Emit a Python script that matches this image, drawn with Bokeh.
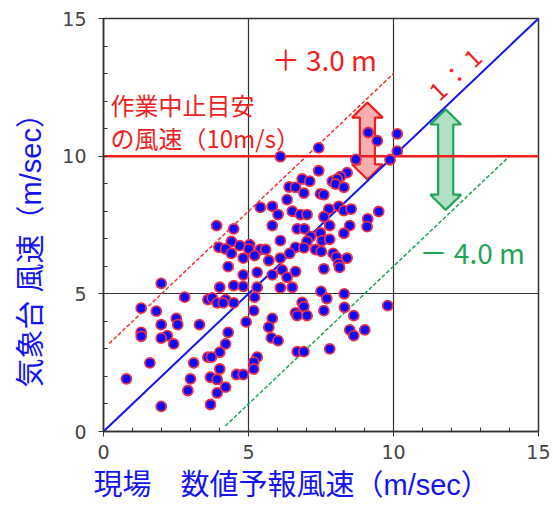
from bokeh.plotting import figure
from bokeh.models import Range1d, SingleIntervalTicker, Label, ColumnDataSource, Title
from bokeh.embed import file_html
from bokeh.resources import INLINE
import math

# ---- data ----
forecast = [6.10, 5.41, 5.82, 6.02, 3.90, 4.49, 5.82, 4.41, 6.10, 3.98, 4.21, 4.70, 5.04, 5.01, 5.41, 5.59,
            4.41, 4.82, 5.21, 6.10, 5.70, 4.30, 5.30, 4.82, 5.82, 6.16, 1.99, 4.49, 4.82, 4.01, 5.30, 6.10,
            7.42, 8.70, 9.88, 10.13, 9.13, 9.44, 10.13, 7.42, 8.40, 8.17, 6.85, 7.11, 7.89, 8.06, 8.00, 8.29,
            6.40, 6.62, 6.91, 7.48, 7.60, 6.33, 6.51, 7.77, 8.11, 8.29, 8.54, 9.49, 6.79, 7.02, 7.60, 9.11,
            9.09, 7.80, 8.49, 6.68, 6.93, 7.48, 8.29, 7.14, 7.54, 7.80, 7.02, 6.62, 6.91, 7.31, 7.51, 6.42,
            7.92, 8.03, 8.40, 8.11, 8.14, 7.60, 6.62, 6.33, 6.51, 7.50, 7.70, 8.30,
            6.85, 6.91, 9.80, 6.62, 6.68, 7.02, 7.60, 8.31, 8.63, 8.49, 8.63, 9.01, 6.68, 6.91, 7.80,
            2.80, 3.60, 3.75, 3.92, 4.21, 4.13, 4.49, 5.21, 1.30, 1.82, 5.18, 2.51, 1.99, 2.56, 3.31, 4.92,
            5.82, 5.70, 1.30, 1.30, 2.20, 1.99, 2.42, 4.30, 4.21, 5.79, 6.02, 4.01, 3.60, 3.72, 1.60, 3.11,
            5.30, 5.18, 5.18, 4.01, 3.69, 3.92, 4.59, 4.82, 0.79, 3.00, 2.91, 4.21, 3.92, 3.69, 1.99]
observed = [9.98, 8.14, 8.18, 7.88, 7.48, 7.36, 7.48, 6.90, 6.93, 6.69, 6.63, 6.75, 6.79, 6.63, 6.61, 6.61,
            6.47, 6.30, 6.39, 6.30, 6.21, 5.99, 5.78, 5.69, 5.69, 5.87, 5.38, 5.30, 5.27, 5.24, 5.24, 5.22,
            10.30, 9.88, 9.87, 10.18, 10.86, 10.56, 10.81, 9.47, 9.40, 9.26, 9.17, 9.09, 9.09, 9.17, 8.99, 8.87,
            8.88, 8.87, 8.66, 8.63, 8.60, 8.42, 8.00, 8.08, 8.18, 8.02, 8.08, 7.99, 7.88, 7.88, 7.80, 7.72,
            7.44, 7.48, 7.48, 7.36, 7.36, 7.21, 7.20, 7.08, 6.93, 6.98, 6.91, 6.69, 6.67, 6.61, 6.54, 6.47,
            6.47, 6.33, 6.30, 6.09, 5.96, 5.91, 5.81, 5.60, 5.24, 5.09, 4.83, 5.00,
            4.69, 4.54, 4.57, 4.31, 4.21, 4.21, 4.39, 4.51, 4.21, 3.69, 3.48, 3.69, 2.90, 2.90, 3.00,
            4.88, 4.79, 4.85, 4.67, 4.79, 4.67, 4.67, 4.88, 4.48, 4.37, 4.39, 4.11, 3.88, 3.88, 3.88, 3.98,
            4.11, 3.79, 3.60, 3.46, 3.48, 3.39, 3.18, 3.60, 3.18, 3.40, 3.30, 2.88, 2.70, 2.70, 2.49, 2.49,
            2.70, 2.52, 2.27, 2.27, 1.97, 1.89, 2.07, 2.07, 1.91, 1.91, 1.49, 1.61, 1.40, 0.98, 0.91]

one_to_one = [0, 15]
plus_offset = 3.0
plus_x = [0.2, 10.0]
minus_offset = -4.0
minus_x = [4.2, 14.0]
stop_wind = 10.0
red_arrow_x, red_arrow_y = 9.1, [9.15, 11.95]
green_arrow_x, green_arrow_y = 11.8, [8.05, 11.7]

RED = "#f01e1e"
BLUE = "#1414f0"
GREEN = "#1fa555"
JP = "Noto Sans CJK JP"
TITLE_FONT = "'Liberation Sans', 'Noto Sans CJK JP'"

p = figure(width=550, height=506, x_range=Range1d(0, 15), y_range=Range1d(0, 15),
           output_backend="svg", toolbar_location=None,
           min_border_left=103, min_border_right=12, min_border_top=18, min_border_bottom=75)
p.background_fill_color = "white"
p.border_fill_color = "white"
p.outline_line_color = "#333333"
p.outline_line_width = 1.5

for ax in (p.xaxis, p.yaxis):
    ax.ticker = SingleIntervalTicker(interval=5, num_minor_ticks=5)
    ax.axis_line_color = "#333333"
    ax.axis_line_width = 1.5
    ax.major_tick_line_color = "#333333"
    ax.minor_tick_line_color = "#333333"
    ax.major_tick_in = 0
    ax.major_tick_out = 5
    ax.minor_tick_in = 4
    ax.minor_tick_out = 0
    ax.major_label_text_font = "DejaVu Sans"
    ax.major_label_text_font_size = "19px"
    ax.major_label_text_color = "#444444"
p.xaxis.major_label_standoff = 8
p.yaxis.major_label_standoff = 12

for g in (p.xgrid, p.ygrid):
    g.grid_line_color = "#333333"
    g.grid_line_width = 1.2

# arrows
def arrow_poly(cx, ys, hw=0.53, sw=0.26, hl=0.55):
    y0, y1 = ys
    xs = [cx, cx + hw, cx + sw, cx + sw, cx + hw, cx, cx - hw, cx - sw, cx - sw, cx - hw]
    yy = [y1, y1 - hl, y1 - hl, y0 + hl, y0 + hl, y0, y0 + hl, y0 + hl, y1 - hl, y1 - hl]
    return xs, yy

rx, ry = arrow_poly(red_arrow_x, red_arrow_y)
p.patch(rx, ry, fill_color="#f6a6a6", fill_alpha=0.9, line_color=RED, line_width=2.2)
gx, gy = arrow_poly(green_arrow_x, green_arrow_y)
p.patch(gx, gy, fill_color="#a9dcbb", fill_alpha=0.9, line_color=GREEN, line_width=2.2)

# reference lines
p.line(one_to_one, one_to_one, line_color=BLUE, line_width=2)
p.line(plus_x, [v + plus_offset for v in plus_x], line_color="#e83838", line_width=1.5, line_dash="4 2")
p.line(minus_x, [v + minus_offset for v in minus_x], line_color=GREEN, line_width=1.5, line_dash="4 2")
p.line([0, 15], [stop_wind, stop_wind], line_color=RED, line_width=2.5)

# points
src = ColumnDataSource(dict(x=forecast, y=observed))
p.scatter("x", "y", source=src, size=10, fill_color="#0a0aff", line_color="#e8304a", line_width=1.8)

# texts
p.add_layout(Label(x=5.8, y=13.54, text="＋ 3.0 m", text_color=RED, text_font=JP,
                   text_font_size="28px", text_baseline="middle", text_align="left"))
p.add_layout(Label(x=12.1, y=13.0, text="1 ： 1", text_color=RED, text_font=JP,
                   text_font_size="24px", text_baseline="middle", text_align="center",
                   angle=math.atan2(27.55, 29.0)))
p.add_layout(Label(x=0.24, y=11.87, text="作業中止目安", text_color=RED, text_font=JP,
                   text_font_size="24px", text_baseline="middle", text_align="left"))
p.add_layout(Label(x=0.24, y=10.67, text="の風速（10m/s）", text_color=RED, text_font=JP,
                   text_font_size="24px", text_baseline="middle", text_align="left"))
p.add_layout(Label(x=10.9, y=6.51, text="－ 4.0 m", text_color=GREEN, text_font=JP,
                   text_font_size="28px", text_baseline="middle", text_align="left"))

# axis titles
xt = Title(text="現場　数値予報風速（m/sec）", align="left", offset=-10, standoff=11,
           text_color=BLUE, text_font=TITLE_FONT, text_font_size="29px", text_font_style="normal")
p.add_layout(xt, "below")
yt = Title(text="気象台 風速（m/sec）", align="left", offset=44, standoff=25,
           text_color=BLUE, text_font=TITLE_FONT, text_font_size="29px", text_font_style="normal")
p.add_layout(yt, "left")

open("out.html", "w").write(file_html(p, INLINE))
